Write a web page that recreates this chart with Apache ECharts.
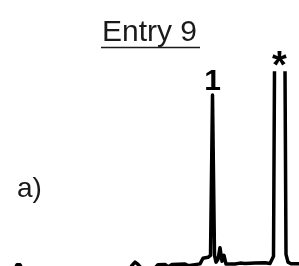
<!DOCTYPE html>
<html>
<head>
<meta charset="utf-8">
<style>html,body{margin:0;padding:0;background:#fff;}#c{width:299px;height:266px;}</style>
<script src="https://cdn.jsdelivr.net/npm/echarts@6/dist/echarts.min.js"></script>
</head>
<body>
<div id="c"></div>
<script>
// retention time (arbitrary units) and detector signal (arbitrary units)
const times = [0, 1.5, 1.7, 2.0, 2.2, 13.0, 13.2, 13.5, 13.8, 14.1, 15.5, 15.8, 16.5, 16.8, 17.2, 18.5, 18.8, 19.0, 20.0, 20.3, 20.8, 21.05, 21.25, 21.45, 21.6, 21.8, 22.0, 22.2, 22.4, 22.6, 22.8, 23.5, 24.0, 24.5, 25.5, 26.5, 27.0, 27.2, 27.35, 27.5, 28.0, 28.45, 28.6, 28.8, 29.1, 29.9];
const signal = [-2, -1.5, 0.6, 0.6, -1.5, -1.5, 0.3, 2.0, 0.8, -1, -1, 0.6, 0.8, -0.5, 0.8, 1.0, 0.2, 1.0, 1.1, 4.0, 4.5, 5.5, 88.6, 5.5, 2.0, 3.5, 9.5, 2.5, 5.5, 1.0, 1.5, 1.0, 1.5, 1.3, 1.5, 1.7, 1.3, 2.0, 5, 150, 400, 150, 6, 2.0, 1.2, 1.2];
const peakLabels = [{ name: '1', t: 21.25, v: 88.6, size: 30, dy: 2 }, { name: '*', t: 27.95, v: 100, size: 38, dy: 14 }];
const titleText = 'Entry 9';
const panelLabel = 'a)';

const chart = echarts.init(document.getElementById('c'), null, { renderer: 'canvas' });
chart.setOption({
  animation: false,
  backgroundColor: '#fff',
  grid: { left: 0, right: 0, top: 73, bottom: 0 },
  xAxis: { type: 'value', min: 0, max: 29.9, show: false },
  yAxis: { type: 'value', min: 0, max: 100, show: false },
  title: {
    text: titleText, left: 'center', top: 13,
    textStyle: { fontFamily: 'Liberation Sans, Arial', fontSize: 30, fontWeight: 'normal', color: '#1a1a1a' }
  },
  graphic: [
    { type: 'line', shape: { x1: 101, y1: 47.5, x2: 200, y2: 47.5 }, style: { stroke: '#1a1a1a', lineWidth: 1.5 } },
    { type: 'text', left: 17, top: 175, style: { text: panelLabel, font: '28px "Liberation Sans", Arial', fill: '#1a1a1a' } }
  ],
  series: [{
    type: 'line',
    data: times.map((t, i) => [t, signal[i]]),
    showSymbol: false,
    clip: true,
    lineStyle: { color: '#000', width: 3.5, join: 'round' },
    markPoint: {
      symbol: 'circle', symbolSize: 0,
      data: peakLabels.map(p => ({
        coord: [p.t, p.v], value: p.name,
        label: { fontSize: p.size, offset: [0, p.dy] }
      })),
      label: {
        show: true, position: 'top', distance: 0,
        formatter: p => p.value,
        fontFamily: 'Liberation Sans, Arial', fontWeight: 'bold', color: '#000'
      }
    }
  }]
});
</script>
</body>
</html>
